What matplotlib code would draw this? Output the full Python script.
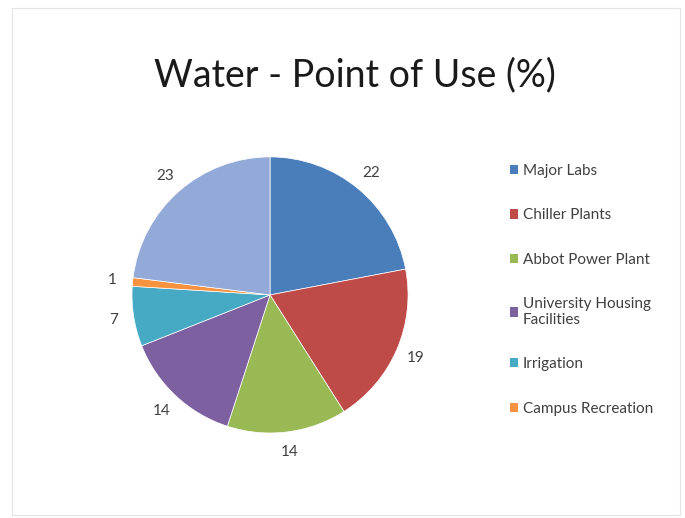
import matplotlib
matplotlib.use("Agg")
import matplotlib.pyplot as plt
from matplotlib.patches import Rectangle

plt.rcParams['font.family'] = ['Lato', 'DejaVu Sans']

title = "Water - Point of Use (%)"
categories = ["Major Labs", "Chiller Plants", "Abbot Power Plant",
              "University Housing\nFacilities", "Irrigation",
              "Campus Recreation", "Other"]
values = [22, 19, 14, 14, 7, 1, 23]
colors = ["#4A7EBB", "#BE4B48", "#98B954", "#7D60A0", "#46AAC5", "#F69240", "#93A9D7"]
legend_count = 6

fig = plt.figure(figsize=(6.85, 5.18), dpi=100)
fig.patch.set_facecolor("white")
fig.add_artist(Rectangle((0.018, 0.006), 0.975, 0.978, transform=fig.transFigure,
                         fill=False, edgecolor="#E4E4E4", linewidth=0.8))

fig.text(0.518, 0.855, title, ha="center", va="center", fontsize=27, color="#1a1a1a")

ax = fig.add_axes([0.1927, 0.1641, 0.403, 0.533])
wedges, texts = ax.pie(values, colors=colors, startangle=90, counterclock=False,
                       labels=[str(v) for v in values], labeldistance=1.15,
                       wedgeprops=dict(edgecolor="white", linewidth=0.5),
                       textprops=dict(fontsize=11, color="#404040"))
for t in texts:
    t.set_ha("center")
    t.set_va("center")
ax.set_xlim(-1, 1)
ax.set_ylim(-1, 1)
ax.set_aspect("equal")

leg = fig.legend(wedges[:legend_count], categories[:legend_count],
                 loc="upper left", bbox_to_anchor=(0.733, 0.698),
                 frameon=False, fontsize=11, labelcolor="#404040",
                 handlelength=0.55, handleheight=0.55, handletextpad=0.3,
                 labelspacing=1.98, borderpad=0)
for h in leg.legend_handles:
    h.set_edgecolor("none")

fig.savefig("out.png", dpi=100)
